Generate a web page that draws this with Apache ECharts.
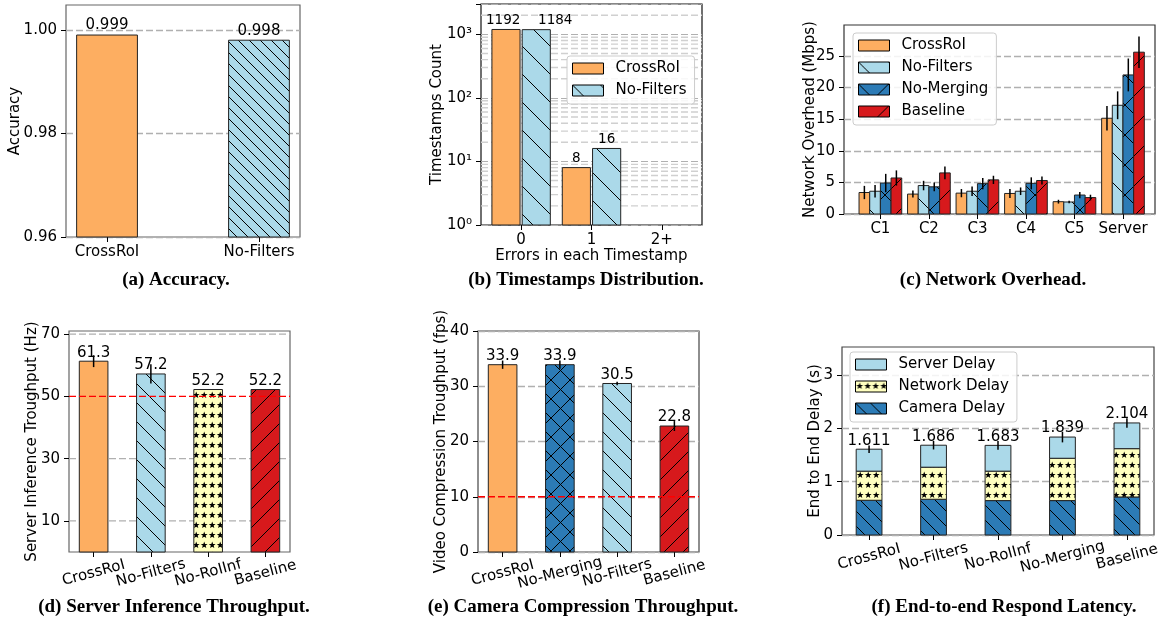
<!DOCTYPE html>
<html>
<head>
<meta charset="utf-8">
<script src="https://cdn.jsdelivr.net/npm/echarts@6.0.0/dist/echarts.min.js"></script>
<style>
html,body{margin:0;padding:0;background:#fff;}
#chart{width:1163px;height:621px;}
</style>
</head>
<body>
<div id="chart"></div>
<script>
// ---------------- data ----------------
const accCategories = ['CrossRoI', 'No-Filters'];
const accValues = [0.999, 0.998];
const accTicks = [0.96, 0.98, 1.00];

const tsCategories = ['0', '1', '2+'];
const tsSeriesNames = ['CrossRoI', 'No-Filters'];
const tsCrossRoI = [1192, 8, 0];
const tsNoFilters = [1184, 16, 0];

const netCategories = ['C1', 'C2', 'C3', 'C4', 'C5', 'Server'];
const netSeriesNames = ['CrossRoI', 'No-Filters', 'No-Merging', 'Baseline'];
const netCrossRoI = [3.4, 3.15, 3.3, 3.25, 1.95, 15.15];
const netNoFilters = [3.6, 4.5, 3.6, 3.6, 1.9, 17.2];
const netNoMerging = [4.9, 4.3, 4.8, 4.85, 3.0, 22.0];
const netBaseline = [5.7, 6.5, 5.4, 5.3, 2.6, 25.6];
const netCrossRoIErr = [1.05, 0.55, 0.65, 0.7, 0.3, 1.95];
const netNoFiltersErr = [1.0, 0.75, 0.75, 0.6, 0.2, 2.2];
const netNoMergingErr = [1.45, 0.7, 0.9, 0.95, 0.5, 2.6];
const netBaselineErr = [1.2, 1.0, 0.65, 0.65, 0.45, 2.5];
const netTicks = [0, 5, 10, 15, 20, 25];

const srvCategories = ['CrossRoI', 'No-Filters', 'No-RoIInf', 'Baseline'];
const srvValues = [61.3, 57.2, 52.2, 52.2];
const srvErr = [1.9, 3.1, 0, 0];
const srvTicks = [10, 30, 50, 70];
const srvTarget = 50;

const camCategories = ['CrossRoI', 'No-Merging', 'No-Filters', 'Baseline'];
const camValues = [33.9, 33.9, 30.5, 22.8];
const camErr = [0.75, 0.75, 0.3, 0.9];
const camTicks = [0, 10, 20, 30, 40];
const camTarget = 10;

const latCategories = ['CrossRoI', 'No-Filters', 'No-RoIInf', 'No-Merging', 'Baseline'];
const latSeriesNames = ['Server Delay', 'Network Delay', 'Camera Delay'];
const latCamera = [0.652, 0.671, 0.646, 0.646, 0.714];
const latNetwork = [0.547, 0.602, 0.553, 0.795, 0.907];
const latServer = [0.412, 0.413, 0.484, 0.398, 0.483];
const latTotalLabels = ['1.611', '1.686', '1.683', '1.839', '2.104'];
const latErr = [0.07, 0.08, 0.08, 0.1, 0.09];
const latTicks = [0, 1, 2, 3];

const captions = ['(a) Accuracy.', '(b) Timestamps Distribution.', '(c) Network Overhead.',
  '(d) Server Inference Throughput.', '(e) Camera Compression Throughput.', '(f) End-to-end Respond Latency.'];

// ---------------- style ----------------
const FONT = 'DejaVu Sans';
const GRIDC = '#b0b0b0';
const ORANGE = '#fdae61', LBLUE = '#abd9e9', BLUE = '#2c7bb6', RED = '#d7191c', YELLOW = '#ffffbf';
const EDGE = '#222';

function hatch(kind, s, bg, lw) {
  const cv = document.createElement('canvas');
  cv.width = s; cv.height = s;
  const g = cv.getContext('2d');
  g.fillStyle = bg; g.fillRect(0, 0, s, s);
  g.strokeStyle = '#000'; g.lineWidth = lw || 1;
  g.beginPath();
  if (kind === '\\' || kind === 'x') for (const k of [-1, 0, 1]) { g.moveTo(-1, k * s - 1); g.lineTo(s + 1, s + k * s + 1); }
  if (kind === '/' || kind === 'x') for (const k of [-1, 0, 1]) { g.moveTo(-1, s + k * s + 1); g.lineTo(s + 1, k * s - 1); }
  g.stroke();
  return { image: cv, repeat: 'repeat' };
}
function stars(w, h, bg, r) {
  const cv = document.createElement('canvas');
  cv.width = w; cv.height = h;
  const g = cv.getContext('2d');
  g.fillStyle = bg; g.fillRect(0, 0, w, h);
  g.fillStyle = '#000';
  g.beginPath();
  for (let i = 0; i < 10; i++) {
    const a = -Math.PI / 2 + i * Math.PI / 5, rr = i % 2 === 0 ? r : r * 0.42;
    g.lineTo(w / 2 + rr * Math.cos(a), h / 2 + rr * Math.sin(a));
  }
  g.closePath(); g.fill();
  return { image: cv, repeat: 'repeat' };
}

const grids = [
  { left: 66, top: 5, width: 234, height: 232, border: '#666' },
  { left: 481, top: 4, width: 221, height: 221, border: '#111' },
  { left: 844, top: 25, width: 311, height: 189, border: '#333' },
  { left: 69, top: 331, width: 221, height: 221, border: '#666' },
  { left: 478, top: 331, width: 221, height: 221, border: '#444' },
  { left: 842, top: 347, width: 312, height: 188, border: '#444' }
];
const xRanges = [[-0.27, 1.27], [-0.57, 2.57], [-0.75, 5.66], [-0.43, 3.43], [-0.43, 3.43], [-0.42, 4.42]];

function xAxisCfg(p, cats, rotate, margin, name, nameGap) {
  const vals = cats.map((_, i) => i);
  return {
    type: 'value', gridIndex: p, min: xRanges[p][0], max: xRanges[p][1], position: 'bottom',
    axisLine: { show: false, onZero: false }, splitLine: { show: false },
    axisTick: { show: true, customValues: vals, length: 5, lineStyle: { color: '#000', width: 1 } },
    axisLabel: {
      customValues: vals, formatter: v => cats[Math.round(v)], color: '#000', fontFamily: FONT, fontSize: 15,
      margin: margin, rotate: rotate || 0, align: 'center', verticalAlign: rotate ? 'middle' : 'top'
    },
    name: name || '', nameLocation: 'middle', nameGap: nameGap || 0, nameMoveOverlap: false,
    nameTextStyle: { color: '#000', fontFamily: FONT, fontSize: 15, verticalAlign: 'top' }
  };
}
function yAxisCfg(p, min, max, ticks, interval, fmt, name, nameGap, showSplit) {
  return {
    type: 'value', gridIndex: p, min, max, interval, position: 'left',
    axisLine: { show: false, onZero: false },
    axisTick: { show: true, customValues: ticks, length: 5, lineStyle: { color: '#000', width: 1 } },
    axisLabel: { customValues: ticks, formatter: fmt, color: '#000', fontFamily: FONT, fontSize: 15, margin: 9 },
    splitLine: { show: showSplit !== false, lineStyle: { color: GRIDC, type: [7, 3], width: 1.4 } },
    name, nameLocation: 'middle', nameGap, nameRotate: 90, nameMoveOverlap: false,
    nameTextStyle: { color: '#000', fontFamily: FONT, fontSize: 15, verticalAlign: 'middle' }
  };
}

function bars(p, name, xs, ys, bases, width, fill) {
  const data = xs.map((x, i) => [x, ys[i], bases[i], i]).filter(d => d[1] > d[2]);
  return {
    type: 'custom', name, xAxisIndex: p, yAxisIndex: p, z: 3, silent: true,
    itemStyle: { color: Array.isArray(fill) ? fill[0] : fill, borderColor: EDGE, borderWidth: 1 },
    encode: { x: 0, y: 1 }, data,
    renderItem: (params, api) => {
      const x = api.value(0), y = api.value(1), b = api.value(2), i = api.value(3);
      const tl = api.coord([x - width / 2, y]);
      const br = api.coord([x + width / 2, b]);
      return {
        type: 'rect', shape: { x: tl[0], y: tl[1], width: br[0] - tl[0], height: br[1] - tl[1] },
        style: { fill: Array.isArray(fill) ? fill[i] : fill, stroke: EDGE, lineWidth: 1 }
      };
    }
  };
}
function errs(p, xs, ys, es) {
  return {
    type: 'custom', xAxisIndex: p, yAxisIndex: p, z: 5, silent: true, encode: { x: 0, y: 1 },
    data: xs.map((x, i) => [x, ys[i], es[i]]).filter(d => d[2] > 0),
    renderItem: (params, api) => {
      const x = api.value(0), y = api.value(1), e = api.value(2);
      const a = api.coord([x, y + e]), b = api.coord([x, y - e]);
      return { type: 'line', shape: { x1: a[0], y1: a[1], x2: b[0], y2: b[1] }, style: { stroke: '#000', lineWidth: 1.5 } };
    }
  };
}
// labels: text placed above a bar top; dxs = optional horizontal nudge (axis units)
function labels(p, xs, ys, texts, size, dy, dxs) {
  return {
    type: 'custom', xAxisIndex: p, yAxisIndex: p, z: 6, silent: true, encode: { x: 0, y: 1 },
    data: xs.map((x, i) => [x + (dxs ? dxs[i] : 0), ys[i], i]),
    renderItem: (params, api) => {
      const pt = api.coord([api.value(0), api.value(1)]);
      return {
        type: 'text', x: pt[0], y: pt[1] - dy,
        style: { text: texts[api.value(2)], fill: '#000', font: size + 'px "DejaVu Sans"', align: 'center', verticalAlign: 'bottom' }
      };
    }
  };
}
function hlineSeries(p, values, color, z) {
  return {
    type: 'custom', xAxisIndex: p, yAxisIndex: p, z: z, silent: true, encode: { x: 0, y: 1 },
    data: values.map(v => [xRanges[p][0], v]),
    renderItem: (params, api) => {
      const v = api.value(1);
      const a = api.coord([xRanges[p][0], v]), b = api.coord([xRanges[p][1], v]);
      return { type: 'line', shape: { x1: a[0], y1: a[1], x2: b[0], y2: b[1] }, style: { stroke: color, lineWidth: 1.4, lineDash: [7, 3] } };
    }
  };
}

const series = [];
const idx = arr => arr.map((_, i) => i);
const zeros = arr => arr.map(() => 0);

// (a)
{
  const xs = idx(accCategories);
  const base = accValues.map(() => 0.96);
  series.push(bars(0, 'acc', xs, accValues, base, 0.4, [ORANGE, hatch('\\', 11, LBLUE, 1)]));
  series.push(labels(0, xs, accValues, accValues.map(v => v.toFixed(3)), 15, 2));
}
// (b)
const bLogMin = 1, bLogMax = 3000;
{
  const xs = idx(tsCategories);
  const minor = [];
  [1, 10, 100, 1000].forEach(d => { for (let k = 2; k <= 9; k++) if (k * d < bLogMax) minor.push(k * d); });
  series.push(hlineSeries(1, minor, '#d0d0d0', 1));
  const base = xs.map(() => bLogMin);
  const xA = xs.map(x => x - 0.215), xB = xs.map(x => x + 0.215);
  series.push(bars(1, 'b:' + tsSeriesNames[0], xA, tsCrossRoI, base, 0.4, ORANGE));
  series.push(bars(1, 'b:' + tsSeriesNames[1], xB, tsNoFilters, base, 0.4, hatch('\\', 28, LBLUE, 1)));
  const la = xA.map((x, i) => [x, tsCrossRoI[i], i]).filter(d => d[1] > 0);
  const lb = xB.map((x, i) => [x, tsNoFilters[i], i]).filter(d => d[1] > 0);
  // the two tall labels are nudged apart so they do not collide (as in the original)
  series.push(labels(1, la.map(d => d[0]), la.map(d => d[1]), la.map(d => String(d[1])), 13.5, 2, la.map(d => d[2] === 0 ? -0.04 : 0)));
  series.push(labels(1, lb.map(d => d[0]), lb.map(d => d[1]), lb.map(d => String(d[1])), 13.5, 2, lb.map(d => d[2] === 0 ? 0.27 : 0)));
}
// (c)
{
  const xs = idx(netCategories);
  const w = 0.22;
  const vals = [netCrossRoI, netNoFilters, netNoMerging, netBaseline];
  const es = [netCrossRoIErr, netNoFiltersErr, netNoMergingErr, netBaselineErr];
  const fills = [ORANGE, hatch('\\', 30, LBLUE, 1), hatch('x', 30, BLUE, 1), hatch('/', 30, RED, 1)];
  vals.forEach((v, k) => {
    const xk = xs.map(x => x + (k - 1.5) * w);
    series.push(bars(2, 'c:' + netSeriesNames[k], xk, v, zeros(v), w, fills[k]));
    series.push(errs(2, xk, v, es[k]));
  });
}
// (d)
{
  const xs = idx(srvCategories);
  series.push(hlineSeries(3, srvTicks.filter(t => t !== srvTarget), GRIDC, 1));
  series.push(bars(3, 'srv', xs, srvValues, zeros(srvValues), 0.5,
    [ORANGE, hatch('\\', 19, LBLUE, 1), stars(8.4, 10.3, YELLOW, 3.6), hatch('/', 19, RED, 1)]));
  series.push(errs(3, xs, srvValues, srvErr));
  series.push(hlineSeries(3, [srvTarget], '#ff0000', 7));
  series.push(labels(3, xs, srvValues, srvValues.map(v => v.toFixed(1)), 15, 1));
}
// (e)
{
  const xs = idx(camCategories);
  series.push(bars(4, 'cam', xs, camValues, zeros(camValues), 0.5,
    [ORANGE, hatch('x', 19, BLUE, 1), hatch('\\', 19, LBLUE, 1), hatch('/', 19, RED, 1)]));
  series.push(errs(4, xs, camValues, camErr));
  series.push(hlineSeries(4, [camTarget], '#ff0000', 7));
  series.push(labels(4, xs, camValues, camValues.map(v => v.toFixed(1)), 15, 1));
}
// (f)
{
  const xs = idx(latCategories);
  const b1 = latCamera.slice();
  const b2 = latCamera.map((v, i) => v + latNetwork[i]);
  const tot = b2.map((v, i) => v + latServer[i]);
  series.push(bars(5, 'f:' + latSeriesNames[2], xs, latCamera, zeros(latCamera), 0.4, hatch('\\', 15, BLUE, 1)));
  series.push(bars(5, 'f:' + latSeriesNames[1], xs, b2, b1, 0.4, stars(8.4, 10.2, YELLOW, 3.6)));
  series.push(bars(5, 'f:' + latSeriesNames[0], xs, tot, b2, 0.4, LBLUE));
  series.push(errs(5, xs, tot, latErr));
  series.push(labels(5, xs, tot, latTotalLabels, 15, 1));
}

const supDigits = ['\u2070', '\u00b9', '\u00b2', '\u00b3', '\u2074'];
const xAxes = [
  xAxisCfg(0, accCategories, 0, 8),
  xAxisCfg(1, tsCategories, 0, 8, 'Errors in each Timestamp', 24),
  xAxisCfg(2, netCategories, 0, 8),
  xAxisCfg(3, srvCategories, 15, 21),
  xAxisCfg(4, camCategories, 15, 21),
  xAxisCfg(5, latCategories, 15, 22)
];
const yAxes = [
  yAxisCfg(0, 0.96, 1.0048, accTicks, 0.02, v => v.toFixed(2), 'Accuracy', 51),
  {
    type: 'log', gridIndex: 1, min: bLogMin, max: bLogMax, logBase: 10, position: 'left',
    axisLine: { show: false, onZero: false },
    axisTick: { show: true, length: 5, lineStyle: { color: '#000' } },
    axisLabel: {
      color: '#000', fontFamily: FONT, fontSize: 15, margin: 9,
      formatter: v => { const l = Math.log10(v), e = Math.round(l); return Math.abs(l - e) < 1e-6 ? '10' + supDigits[e] : ''; }
    },
    splitLine: { show: true, lineStyle: { color: GRIDC, type: [7, 3], width: 1.2 } },
    name: 'Timestamps Count', nameLocation: 'middle', nameGap: 44, nameRotate: 90, nameMoveOverlap: false,
    nameTextStyle: { color: '#000', fontFamily: FONT, fontSize: 15, verticalAlign: 'middle' }
  },
  yAxisCfg(2, 0, 29.9, netTicks, 5, v => String(v), 'Network Overhead (Mbps)', 34),
  yAxisCfg(3, 0, 71, srvTicks, null, v => String(v), 'Server Inference Troughput (Hz)', 37, false),
  yAxisCfg(4, 0, 40, camTicks, 10, v => String(v), 'Video Compression Troughput (fps)', 37),
  yAxisCfg(5, 0, 3.53, latTicks, 1, v => String(v), 'End to End Delay (s)', 27)
];

function legendCfg(names, prefix, left, top) {
  return {
    data: names.map(n => prefix + n), left, top, orient: 'vertical', icon: 'rect',
    itemWidth: 31, itemHeight: 11, itemGap: 7, padding: [5, 8, 6, 5],
    formatter: n => n.slice(prefix.length), selectedMode: false,
    textStyle: { color: '#000', fontFamily: FONT, fontSize: 15, padding: [0, 0, 0, 7] },
    itemStyle: { borderColor: '#000', borderWidth: 1 },
    backgroundColor: 'rgba(255,255,255,0.85)', borderColor: '#cccccc', borderWidth: 1, borderRadius: 3
  };
}

const capPos = [[176, 280], [586, 280], [993, 280], [174, 607], [583, 607], [1004, 607]];

const option = {
  animation: false,
  backgroundColor: '#ffffff',
  grid: grids.map(g => ({ left: g.left, top: g.top, width: g.width, height: g.height, show: true,
    borderColor: g.border, borderWidth: 1.2, backgroundColor: 'transparent', containLabel: false, outerBoundsMode: 'none' })),
  xAxis: xAxes,
  yAxis: yAxes,
  legend: [
    legendCfg(tsSeriesNames, 'b:', 567, 56),
    legendCfg(netSeriesNames, 'c:', 853, 33),
    legendCfg(latSeriesNames, 'f:', 850, 352)
  ],
  graphic: { elements: captions.map((t, i) => ({
    type: 'text', x: capPos[i][0], y: capPos[i][1], silent: true,
    style: { text: t, font: 'bold 19px "Liberation Serif"', fill: '#000', align: 'center', verticalAlign: 'middle' }
  })) },
  series
};

const chart = echarts.init(document.getElementById('chart'), null, { renderer: 'canvas', width: 1163, height: 621 });
chart.setOption(option);
</script>
</body>
</html>
